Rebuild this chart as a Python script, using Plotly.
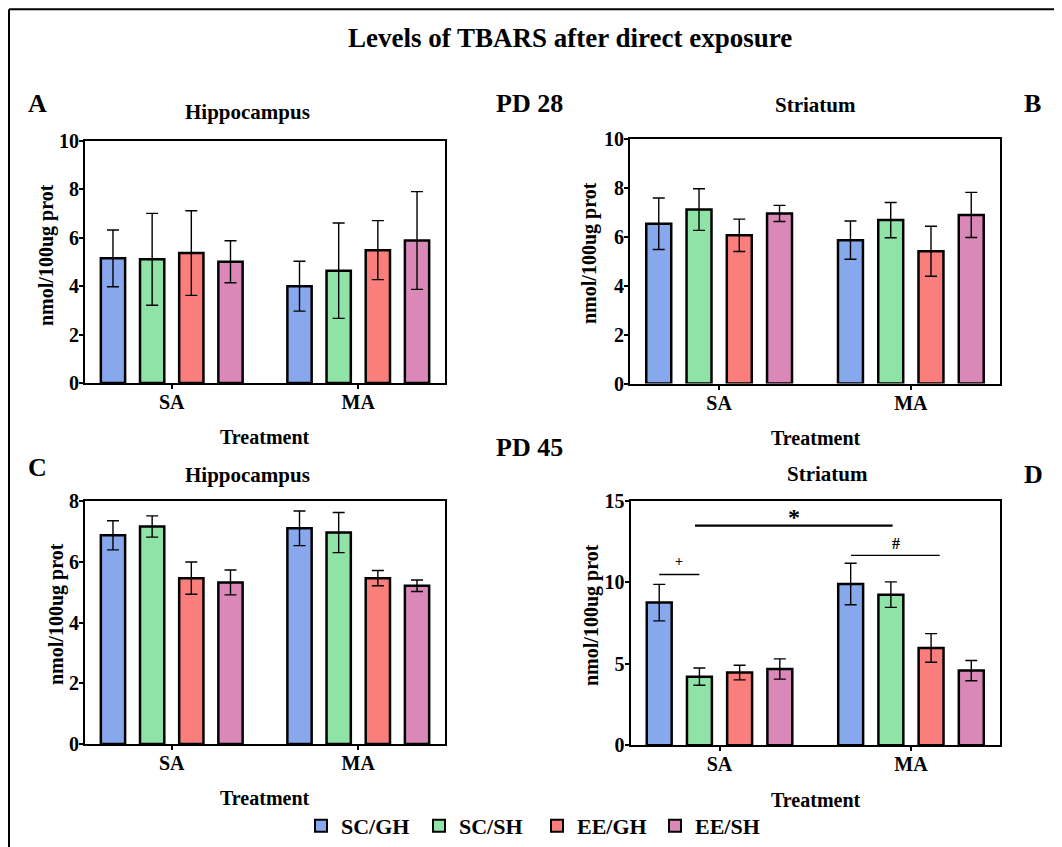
import plotly.graph_objects as go

W, H = 1062, 847

# ---------------- data ----------------
treatments = ["SA", "MA"]
groups = ["SC/GH", "SC/SH", "EE/GH", "EE/SH"]
colors = ["#88A8EE", "#8FE3A7", "#FA7E7B", "#D988B7"]

# Panel A: PD 28 Hippocampus  (mean per group: [SA, MA])
A_mean = {"SC/GH": [5.15, 4.00], "SC/SH": [5.11, 4.64], "EE/GH": [5.37, 5.49], "EE/SH": [5.01, 5.89]}
A_err = {"SC/GH": [1.17, 1.03], "SC/SH": [1.90, 1.97], "EE/GH": [1.75, 1.22], "EE/SH": [0.87, 2.02]}
# Panel B: PD 28 Striatum
B_mean = {"SC/GH": [6.52, 5.85], "SC/SH": [7.10, 6.67], "EE/GH": [6.05, 5.40], "EE/SH": [6.94, 6.88]}
B_err = {"SC/GH": [1.05, 0.78], "SC/SH": [0.85, 0.72], "EE/GH": [0.66, 1.02], "EE/SH": [0.33, 0.92]}
# Panel C: PD 45 Hippocampus
C_mean = {"SC/GH": [6.87, 7.10], "SC/SH": [7.16, 6.96], "EE/GH": [5.46, 5.46], "EE/SH": [5.32, 5.21]}
C_err = {"SC/GH": [0.48, 0.57], "SC/SH": [0.35, 0.66], "EE/GH": [0.53, 0.25], "EE/SH": [0.41, 0.19]}
# Panel D: PD 45 Striatum
D_mean = {"SC/GH": [8.75, 9.89], "SC/SH": [4.21, 9.24], "EE/GH": [4.46, 5.97], "EE/SH": [4.68, 4.58]}
D_err = {"SC/GH": [1.12, 1.27], "SC/SH": [0.53, 0.78], "EE/GH": [0.45, 0.88], "EE/SH": [0.62, 0.62]}

y_ranges = [[0, 10], [0, 10], [0, 8], [0, 15]]
y_dticks = [2, 2, 2, 5]

# significance brackets in panel D: (x0, x1, y, label, label_x, label_y)
sig_brackets = [
    (-0.315, -0.105, 10.48, "+", -0.21, 11.25),
    (-0.128, 0.904, 13.47, "*", 0.388, 14.0),
    (0.687, 1.15, 11.65, "#", 0.923, 12.4),
]

# ---------------- layout helpers ----------------
FONT = "Liberation Serif"
OFF = 8  # page body margin offset of the figure inside the window


def px_x(p):
    return (p - OFF) / W


def px_y(p):
    return 1 - (p - OFF) / H


panels = [
    (A_mean, A_err, [85, 445], [141, 383]),
    (B_mean, B_err, [630, 1000], [138.5, 383.5]),
    (C_mean, C_err, [85, 445], [501, 744]),
    (D_mean, D_err, [630.5, 1000], [500.7, 745.3]),
]

fig = go.Figure()
layout_axes = {}
for i, (means, errs, xd, yd) in enumerate(panels):
    n = i + 1
    xa = "x" if n == 1 else f"x{n}"
    ya = "y" if n == 1 else f"y{n}"
    for g, c in zip(groups, colors):
        fig.add_trace(go.Bar(
            x=treatments, y=means[g], name=g,
            marker=dict(color=c, line=dict(color="black", width=2.5)),
            error_y=dict(type="data", array=errs[g], color="black", thickness=1.4, width=6),
            xaxis=xa, yaxis=ya, legendgroup=g, showlegend=(n == 1),
        ))
    xkey = "xaxis" if n == 1 else f"xaxis{n}"
    ykey = "yaxis" if n == 1 else f"yaxis{n}"
    layout_axes[xkey] = dict(
        domain=[px_x(xd[0]), px_x(xd[1])], anchor=ya, type="category",
        range=[-0.465, 1.465], showline=True, linecolor="black", linewidth=2,
        mirror=True, ticks="outside", ticklen=4, tickwidth=2, tickcolor="black",
        tickfont=dict(family=FONT, size=20, color="black", weight="bold"),
        showgrid=False, zeroline=False, fixedrange=True, ticklabelstandoff=-4,
        automargin=False,
    )
    layout_axes[ykey] = dict(
        domain=[px_y(yd[1]), px_y(yd[0])], anchor=xa,
        range=y_ranges[i], dtick=y_dticks[i], showline=True, linecolor="black",
        linewidth=2, mirror=True, ticks="outside", ticklen=4, tickwidth=2,
        tickcolor="black", ticklabelstandoff=-4,
        tickfont=dict(family=FONT, size=20, color="black", weight="bold"),
        showgrid=False, zeroline=False, fixedrange=True, automargin=False,
    )

fig.update_layout(**layout_axes)

annotations = []


def txt(text, x, y, size, xref="paper", yref="paper", textangle=0):
    annotations.append(dict(
        text=text, x=x, y=y, xref=xref, yref=yref, showarrow=False,
        xanchor="center", yanchor="middle", textangle=textangle,
        font=dict(family=FONT, size=size, color="black", weight="bold"),
    ))


txt("Levels of TBARS after direct exposure", px_x(570), px_y(38), 27)
txt("A", px_x(37), px_y(103), 26)
txt("B", px_x(1032), px_y(103), 26)
txt("C", px_x(37), px_y(467), 26)
txt("D", px_x(1033), px_y(474), 26)
txt("PD 28", px_x(529), px_y(103), 26)
txt("PD 45", px_x(529), px_y(447), 26)
txt("Hippocampus", px_x(247), px_y(112), 21)
txt("Striatum", px_x(815), px_y(105), 21)
txt("Hippocampus", px_x(247), px_y(475), 21)
txt("Striatum", px_x(827), px_y(474), 21)
txt("Treatment", px_x(265), px_y(437), 20)
txt("Treatment", px_x(816), px_y(438), 20)
txt("Treatment", px_x(265), px_y(798), 20)
txt("Treatment", px_x(816), px_y(800), 20)
txt("nmol/100ug prot", px_x(46), px_y(255), 20, textangle=-90)
txt("nmol/100ug prot", px_x(590), px_y(253), 20, textangle=-90)
txt("nmol/100ug prot", px_x(56), px_y(614), 20, textangle=-90)
txt("nmol/100ug prot", px_x(591), px_y(615), 20, textangle=-90)

shapes = []
label_sizes = {"+": 14, "*": 24, "#": 16}
line_widths = {"+": 1.5, "*": 2.2, "#": 1.3}
for x0, x1, yv, lab, lx, ly in sig_brackets:
    shapes.append(dict(type="line", xref="x4", yref="y4", x0=x0, x1=x1, y0=yv, y1=yv,
                       line=dict(color="black", width=line_widths[lab])))
    annotations.append(dict(text=lab, x=lx, y=ly, xref="x4", yref="y4", showarrow=False,
                            xanchor="center", yanchor="middle",
                            font=dict(family=FONT, size=label_sizes[lab], color="black",
                                      weight="bold")))

# figure frame (top and left border)
frame_top = 1 - 1.2 / H
shapes.append(dict(type="line", xref="paper", yref="paper", x0=px_x(9), x1=1.0,
                   y0=frame_top, y1=frame_top, line=dict(color="black", width=2)))
shapes.append(dict(type="line", xref="paper", yref="paper", x0=px_x(9), x1=px_x(9),
                   y0=frame_top, y1=0, line=dict(color="black", width=2)))

fig.update_layout(
    width=W, height=H,
    margin=dict(l=0, r=0, t=0, b=0, pad=0, autoexpand=False),
    paper_bgcolor="white", plot_bgcolor="white",
    barmode="group", bargap=0.16, bargroupgap=0.38,
    annotations=annotations, shapes=shapes,
    legend=dict(orientation="h", x=px_x(537), y=px_y(826), xanchor="center",
                yanchor="middle", font=dict(family=FONT, size=22, color="black",
                                            weight="bold"),
                entrywidth=73, entrywidthmode="pixels",
                itemsizing="constant", bgcolor="rgba(0,0,0,0)"),
    font=dict(family=FONT, color="black"),
)

fig.write_html("out.html")
